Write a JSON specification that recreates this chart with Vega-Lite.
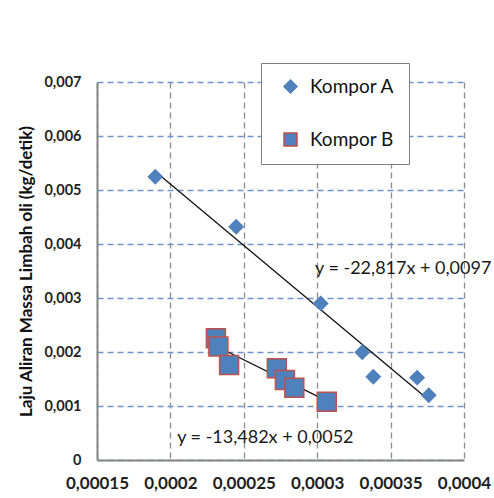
{
  "$schema": "https://vega.github.io/schema/vega-lite/v6.json",
  "autosize": "none",
  "width": 367,
  "height": 378,
  "padding": {"left": 97, "top": 82, "right": 30, "bottom": 38},
  "background": "white",
  "config": {
    "view": {"stroke": null},
    "font": "Lato"
  },
  "datasets": {
    "points": [
      {"series": "Kompor A", "x": 0.0001897, "y": 0.005246},
      {"series": "Kompor A", "x": 0.0002448, "y": 0.00432},
      {"series": "Kompor A", "x": 0.0003024, "y": 0.0029},
      {"series": "Kompor A", "x": 0.0003307, "y": 0.001994},
      {"series": "Kompor A", "x": 0.0003382, "y": 0.001543},
      {"series": "Kompor A", "x": 0.0003681, "y": 0.001525},
      {"series": "Kompor A", "x": 0.000376, "y": 0.0012},
      {"series": "Kompor B", "x": 0.000231, "y": 0.002253},
      {"series": "Kompor B", "x": 0.0002327, "y": 0.0021},
      {"series": "Kompor B", "x": 0.00024, "y": 0.00176},
      {"series": "Kompor B", "x": 0.0002725, "y": 0.0017},
      {"series": "Kompor B", "x": 0.000278, "y": 0.00148},
      {"series": "Kompor B", "x": 0.0002844, "y": 0.00134},
      {"series": "Kompor B", "x": 0.0003065, "y": 0.00108}
    ],
    "labels": [
      {"x": 0.0002985, "y": 0.003537, "label": "y = -22,817x + 0,0097"},
      {"x": 0.0002046, "y": 0.000407, "label": "y = -13,482x + 0,0052"}
    ]
  },
  "encoding": {
    "x": {
      "field": "x", "type": "quantitative",
      "scale": {"domain": [0.00015, 0.0004], "nice": false, "zero": false},
      "axis": {
        "title": null,
        "values": [0.00015, 0.0002, 0.00025, 0.0003, 0.00035, 0.0004],
        "labelExpr": "replace(format(datum.value, '~g'), '.', ',')",
        "grid": true, "gridDash": [6, 4], "gridColor": "#8c8c8c", "gridWidth": 1.3,
        "domainColor": "#868686", "domainWidth": 2,
        "ticks": false,
        "labelFontSize": 17, "labelFontWeight": "bold", "labelColor": "#1f1f1f",
        "labelPadding": 15, "labelFlush": false
      }
    },
    "y": {
      "field": "y", "type": "quantitative",
      "scale": {"domain": [0, 0.007], "nice": false},
      "axis": {
        "title": "Laju Aliran Massa Limbah oli (kg/detik)",
        "titleFontSize": 17, "titleFontWeight": "bold", "titleColor": "#111111",
        "titlePadding": 8,
        "values": [0, 0.001, 0.002, 0.003, 0.004, 0.005, 0.006, 0.007],
        "labelExpr": "replace(format(datum.value, '~g'), '.', ',')",
        "grid": true, "gridDash": [6, 4], "gridColor": "#6f94cc", "gridWidth": 1.3,
        "domainColor": "#868686", "domainWidth": 2,
        "ticks": false,
        "labelFontSize": 14.5, "labelFontWeight": "bold", "labelColor": "#1f1f1f",
        "labelPadding": 16
      }
    }
  },
  "layer": [
    {
      "data": {"name": "points"},
      "transform": [
        {"regression": "y", "on": "x", "groupby": ["series"]}
      ],
      "mark": {"type": "line", "color": "#111111", "strokeWidth": 1.3},
      "encoding": {"detail": {"field": "series", "type": "nominal"}}
    },
    {
      "data": {"name": "points"},
      "mark": {"type": "point", "filled": true, "opacity": 1, "strokeWidth": 1.5},
      "encoding": {
        "shape": {
          "field": "series", "type": "nominal",
          "scale": {"domain": ["Kompor A", "Kompor B"], "range": ["diamond", "square"]},
          "legend": {
            "title": null, "orient": "none", "legendX": 164, "legendY": -19,
            "fillColor": "white", "strokeColor": "#7f7f7f",
            "padding": 14, "symbolSize": 169, "symbolOffset": 6,
            "labelFontSize": 19, "labelColor": "#111111", "labelOffset": 10,
            "rowPadding": 33, "symbolStrokeWidth": 1.5
          }
        },
        "fill": {
          "field": "series", "type": "nominal",
          "scale": {"domain": ["Kompor A", "Kompor B"], "range": ["#4F81BD", "#4F81BD"]},
          "legend": {
            "title": null, "orient": "none", "legendX": 164, "legendY": -19,
            "fillColor": "white", "strokeColor": "#7f7f7f",
            "padding": 14, "symbolSize": 169, "symbolOffset": 6,
            "labelFontSize": 19, "labelColor": "#111111", "labelOffset": 10,
            "rowPadding": 33, "symbolStrokeWidth": 1.5
          }
        },
        "stroke": {
          "field": "series", "type": "nominal",
          "scale": {"domain": ["Kompor A", "Kompor B"], "range": ["#4F81BD", "#C0504D"]},
          "legend": {
            "title": null, "orient": "none", "legendX": 164, "legendY": -19,
            "fillColor": "white", "strokeColor": "#7f7f7f",
            "padding": 14, "symbolSize": 169, "symbolOffset": 6,
            "labelFontSize": 19, "labelColor": "#111111", "labelOffset": 10,
            "rowPadding": 33, "symbolStrokeWidth": 1.5
          }
        },
        "size": {
          "condition": {"test": "datum.series === 'Kompor B'", "value": 360},
          "value": 190
        }
      }
    },
    {
      "data": {"name": "labels"},
      "mark": {"type": "text", "align": "left", "baseline": "middle", "fontSize": 18, "color": "#1a1a1a"},
      "encoding": {"text": {"field": "label", "type": "nominal"}}
    }
  ]
}
